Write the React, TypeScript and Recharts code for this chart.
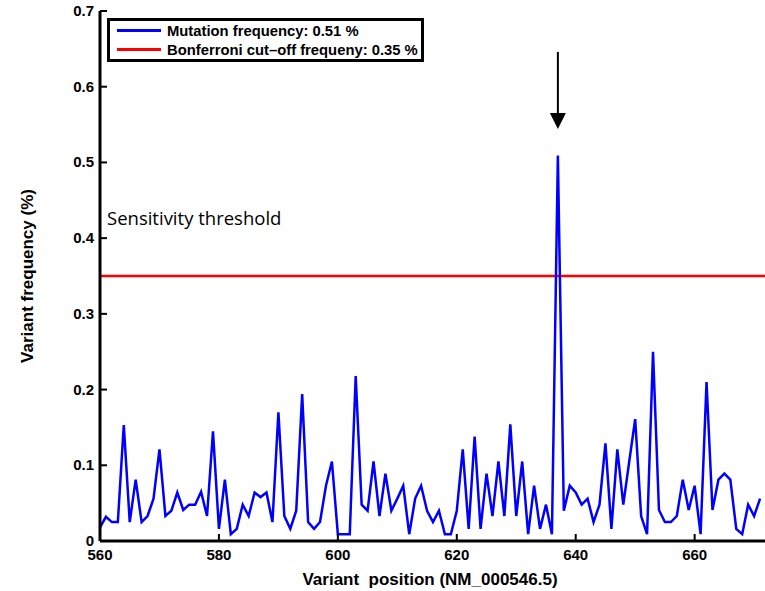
import {
  LineChart,
  Line,
  XAxis,
  YAxis,
  Legend,
  ReferenceLine,
  ReferenceDot,
} from "recharts";

// variant positions along NM_000546.5
const positions = [
  560, 561, 562, 563, 564, 565, 566, 567, 568, 569,
  570, 571, 572, 573, 574, 575, 576, 577, 578, 579,
  580, 581, 582, 583, 584, 585, 586, 587, 588, 589,
  590, 591, 592, 593, 594, 595, 596, 597, 598, 599,
  600, 601, 602, 603, 604, 605, 606, 607, 608, 609,
  610, 611, 612, 613, 614, 615, 616, 617, 618, 619,
  620, 621, 622, 623, 624, 625, 626, 627, 628, 629,
  630, 631, 632, 633, 634, 635, 636, 637, 638, 639,
  640, 641, 642, 643, 644, 645, 646, 647, 648, 649,
  650, 651, 652, 653, 654, 655, 656, 657, 658, 659,
  660, 661, 662, 663, 664, 665, 666, 667, 668, 669,
  670, 671,
];

// variant frequency (%) per position
const frequency = [
  0.018, 0.032, 0.025, 0.025, 0.153, 0.025, 0.081, 0.025, 0.033, 0.056,
  0.121, 0.033, 0.04, 0.064, 0.041, 0.048, 0.048, 0.065, 0.033, 0.145,
  0.016, 0.081, 0.009, 0.016, 0.048, 0.033, 0.064, 0.058, 0.064, 0.025,
  0.17, 0.033, 0.016, 0.04, 0.194, 0.025, 0.016, 0.025, 0.073, 0.105,
  0.009, 0.009, 0.009, 0.218, 0.048, 0.04, 0.105, 0.033, 0.089, 0.04,
  0.056, 0.073, 0.009, 0.056, 0.073, 0.04, 0.025, 0.04, 0.009, 0.009,
  0.04, 0.121, 0.016, 0.138, 0.016, 0.089, 0.033, 0.105, 0.033, 0.154,
  0.033, 0.105, 0.009, 0.073, 0.016, 0.048, 0.009, 0.509, 0.04, 0.073,
  0.064, 0.048, 0.056, 0.025, 0.048, 0.129, 0.016, 0.121, 0.048, 0.105,
  0.161, 0.033, 0.009, 0.25, 0.041, 0.025, 0.025, 0.033, 0.081, 0.041,
  0.073, 0.009, 0.21, 0.041, 0.081, 0.089, 0.081, 0.016, 0.009, 0.048,
  0.033, 0.056,
];

const xTicks = [560, 580, 600, 620, 640, 660];
const yTicks = [0, 0.1, 0.2, 0.3, 0.4, 0.5, 0.6, 0.7];

const cutoff = 0.35;
const mutationFreq = 0.51;

// arrow pointing at the mutation peak
const arrowX = 637;
const arrowTop = 0.646;
const arrowHeadBase = 0.565;
const arrowTip = 0.544;

const data = positions.map((p, i) => ({ pos: p, freq: frequency[i] }));

const FONT = '"Liberation Sans", Arial, Helvetica, sans-serif';
const TICK_LEN = 7;

function BottomTick({ x, y, payload }: any) {
  return (
    <g>
      <line x1={x} y1={y} x2={x} y2={y - TICK_LEN} stroke="#000" strokeWidth={2} />
      <text x={x} y={y + 19} textAnchor="middle" fontFamily={FONT} fontWeight="bold" fontSize={15} fill="#000">
        {payload.value}
      </text>
    </g>
  );
}

function TopTick({ x, y }: any) {
  return <line x1={x} y1={y} x2={x} y2={y + TICK_LEN} stroke="#000" strokeWidth={2} />;
}

function LeftTick({ x, y, payload }: any) {
  const v = payload.value;
  return (
    <g>
      <line x1={x} y1={y} x2={x + TICK_LEN} y2={y} stroke="#000" strokeWidth={2} />
      <text x={x - 6} y={y + 5} textAnchor="end" fontFamily={FONT} fontWeight="bold" fontSize={15} fill="#000">
        {v === 0 ? "0" : v.toFixed(1)}
      </text>
    </g>
  );
}

function RightTick({ x, y }: any) {
  return <line x1={x} y1={y} x2={x - TICK_LEN} y2={y} stroke="#000" strokeWidth={2} />;
}

function LegendBox() {
  const row = (color: string, label: string) => (
    <div style={{ display: "flex", alignItems: "center", height: 19 }}>
      <div style={{ width: 44, height: 3, background: color, marginRight: 6 }} />
      <span style={{ fontFamily: FONT, fontWeight: "bold", fontSize: 14.8, color: "#000", whiteSpace: "nowrap" }}>
        {label}
      </span>
    </div>
  );
  return (
    <div
      style={{
        border: "3px solid #000",
        background: "#fff",
        width: 304,
        height: 38,
        padding: "0 0 0 7px",
        display: "flex",
        flexDirection: "column",
        justifyContent: "center",
      }}
    >
      {row("#0000ff", `Mutation frequency: ${mutationFreq} %`)}
      {row("#ff0000", `Bonferroni cut\u2013off frequeny: ${cutoff} %`)}
    </div>
  );
}

function ThresholdLabel({ viewBox }: any) {
  return (
    <text x={viewBox.x + 7} y={viewBox.y - 51} fontFamily='"Open Sans", "Noto Sans", sans-serif' fontSize={18.5} fill="#000">
      Sensitivity threshold
    </text>
  );
}

function ArrowHead({ cx, cy }: any) {
  return <polygon points={`${cx - 8},${cy - 16} ${cx + 8},${cy - 16} ${cx},${cy}`} fill="#000" />;
}

function XLabel({ viewBox }: any) {
  return (
    <text
      x={viewBox.x + viewBox.width / 2 - 3}
      y={viewBox.y + 44}
      textAnchor="middle"
      fontFamily={FONT}
      fontWeight="bold"
      fontSize={17}
      fill="#000"
      style={{ whiteSpace: "pre" }}
    >
      {"Variant  position (NM_000546.5)"}
    </text>
  );
}

function YLabel({ viewBox }: any) {
  const cx = 27;
  const cy = viewBox.y + viewBox.height / 2;
  return (
    <text
      x={cx}
      y={cy}
      transform={`rotate(-90, ${cx}, ${cy})`}
      textAnchor="middle"
      dominantBaseline="central"
      fontFamily={FONT}
      fontWeight="bold"
      fontSize={17}
      fill="#000"
    >
      Variant frequency (%)
    </text>
  );
}

export default function App() {
  return (
    <div style={{ position: "absolute", left: 0, top: 0, width: 765, height: 591, overflow: "hidden", background: "#fff" }}>
      <LineChart width={800} height={591} data={data} margin={{ top: 11, right: 34, left: 0, bottom: 0 }}>
        <XAxis
          dataKey="pos"
          type="number"
          domain={[560, 672]}
          ticks={xTicks}
          height={50}
          axisLine={{ stroke: "#000", strokeWidth: 3 }}
          tickLine={false}
          tickSize={0}
          tickMargin={0}
          tick={<BottomTick />}
          interval={0}
          label={<XLabel />}
        />
        <XAxis
          xAxisId="top"
          orientation="top"
          dataKey="pos"
          type="number"
          domain={[560, 672]}
          ticks={xTicks}
          height={0}
          axisLine={{ stroke: "#000", strokeWidth: 3 }}
          tickLine={false}
          tickSize={0}
          tickMargin={0}
          tick={<TopTick />}
          interval={0}
        />
        <YAxis
          domain={[0, 0.7]}
          ticks={yTicks}
          width={100}
          axisLine={{ stroke: "#000", strokeWidth: 3 }}
          tickLine={false}
          tickSize={0}
          tickMargin={0}
          tick={<LeftTick />}
          interval={0}
          label={<YLabel />}
        />
        <YAxis
          yAxisId="right"
          orientation="right"
          domain={[0, 0.7]}
          ticks={yTicks}
          width={0}
          axisLine={{ stroke: "#000", strokeWidth: 3 }}
          tickLine={false}
          tickSize={0}
          tickMargin={0}
          tick={<RightTick />}
          interval={0}
        />
        <ReferenceLine y={cutoff} stroke="#ff0000" strokeWidth={2.5} label={<ThresholdLabel />} />
        <Line
          dataKey="freq"
          type="linear"
          stroke="#0000ff"
          strokeWidth={2.5}
          dot={false}
          isAnimationActive={false}
        />
        <ReferenceLine
          segment={[
            { x: arrowX, y: arrowTop },
            { x: arrowX, y: arrowHeadBase },
          ]}
          stroke="#000"
          strokeWidth={2}
        />
        <ReferenceDot x={arrowX} y={arrowTip} shape={<ArrowHead />} />
        <Legend
          layout="horizontal"
          verticalAlign="middle"
          align="center"
          content={<LegendBox />}
          wrapperStyle={{ position: "absolute", left: 107, top: 18, width: "auto" }}
        />
      </LineChart>
    </div>
  );
}
